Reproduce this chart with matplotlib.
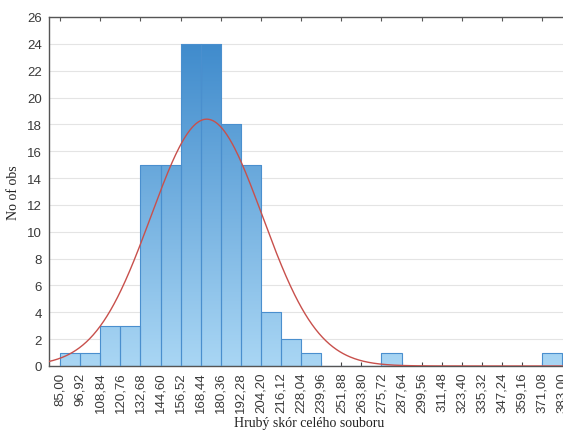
import numpy as np
import matplotlib
matplotlib.use("Agg")
import matplotlib.pyplot as plt
from matplotlib.colors import LinearSegmentedColormap

# class limits (width 11.92) and observed counts per class
bin_start = 85.00
bin_width = 11.92
counts = [1, 1, 3, 3, 15, 15, 24, 24, 18, 15, 4, 2, 1, 0, 0, 0, 1,
          0, 0, 0, 0, 0, 0, 0, 1]
# fitted normal curve parameters
fit_mean = 172.0
fit_sd = 33.1

edges = bin_start + bin_width * np.arange(len(counts) + 1)
lefts = edges[:-1]
n_total = sum(counts)

fig = plt.figure(figsize=(5.63, 4.31), dpi=100)
ax = fig.add_axes([49 / 563, 64 / 431, 520 / 563, 349 / 431])

ymax = 26
xmin, xmax = 78.4, 387.0

# gradient fill: dark blue at the top of the scale, pale blue at zero
cmap = LinearSegmentedColormap.from_list("bars", ["#a9d6f4", "#3785c9"])
grad = np.linspace(0, 1, 256).reshape(-1, 1)

bars = ax.bar(lefts, counts, width=bin_width, align="edge",
              facecolor="none", edgecolor="#4a8fce", linewidth=0.8, zorder=3)
for rect, c in zip(bars, counts):
    if c == 0:
        continue
    x0 = rect.get_x()
    im = ax.imshow(grad, cmap=cmap, origin="lower", aspect="auto",
                   extent=(x0, x0 + bin_width, 0, ymax), zorder=2,
                   interpolation="bilinear")
    im.set_clip_path(rect)

# expected frequencies under the normal fit
xs = np.linspace(xmin, xmax, 600)
ys = n_total * bin_width / (fit_sd * np.sqrt(2 * np.pi)) * \
    np.exp(-0.5 * ((xs - fit_mean) / fit_sd) ** 2)
ax.plot(xs, ys, color="#c8504c", linewidth=1.0, zorder=4)

ax.set_xlim(xmin, xmax)
ax.set_ylim(0, ymax)

ax.set_xticks(edges)
ax.set_xticklabels([f"{e:.2f}".replace(".", ",") for e in edges],
                   rotation=90, fontsize=9.5, family="Liberation Sans",
                   color="#3a3a3a")
ax.set_yticks(np.arange(0, ymax + 1, 2))
ax.set_yticklabels([str(v) for v in range(0, ymax + 1, 2)],
                   fontsize=9.5, family="Liberation Sans", color="#3a3a3a")
ax.tick_params(axis="x", direction="in", length=3, width=0.8,
               color="#444444", pad=4)
ax.tick_params(axis="y", length=0, pad=5)

# short ticks along the top frame every second class limit
top = ax.secondary_xaxis("top")
top.set_xticks(edges[::2])
top.tick_params(direction="in", length=3, width=0.8, color="#555555",
                labeltop=False)
top.spines["top"].set_visible(False)

ax.yaxis.grid(True, color="#e4e4e4", linewidth=0.8)
ax.set_axisbelow(True)

for side in ("left", "bottom", "top"):
    ax.spines[side].set_color("#555555")
    ax.spines[side].set_linewidth(1.0)
ax.spines["right"].set_visible(False)

ax.set_xlabel("Hrubý skór celého souboru", family="Liberation Serif",
              fontsize=10, color="#222222", labelpad=3)
ax.set_ylabel("No of obs", family="Liberation Serif", fontsize=10,
              color="#222222", labelpad=5)

fig.savefig("out.png", dpi=100)
